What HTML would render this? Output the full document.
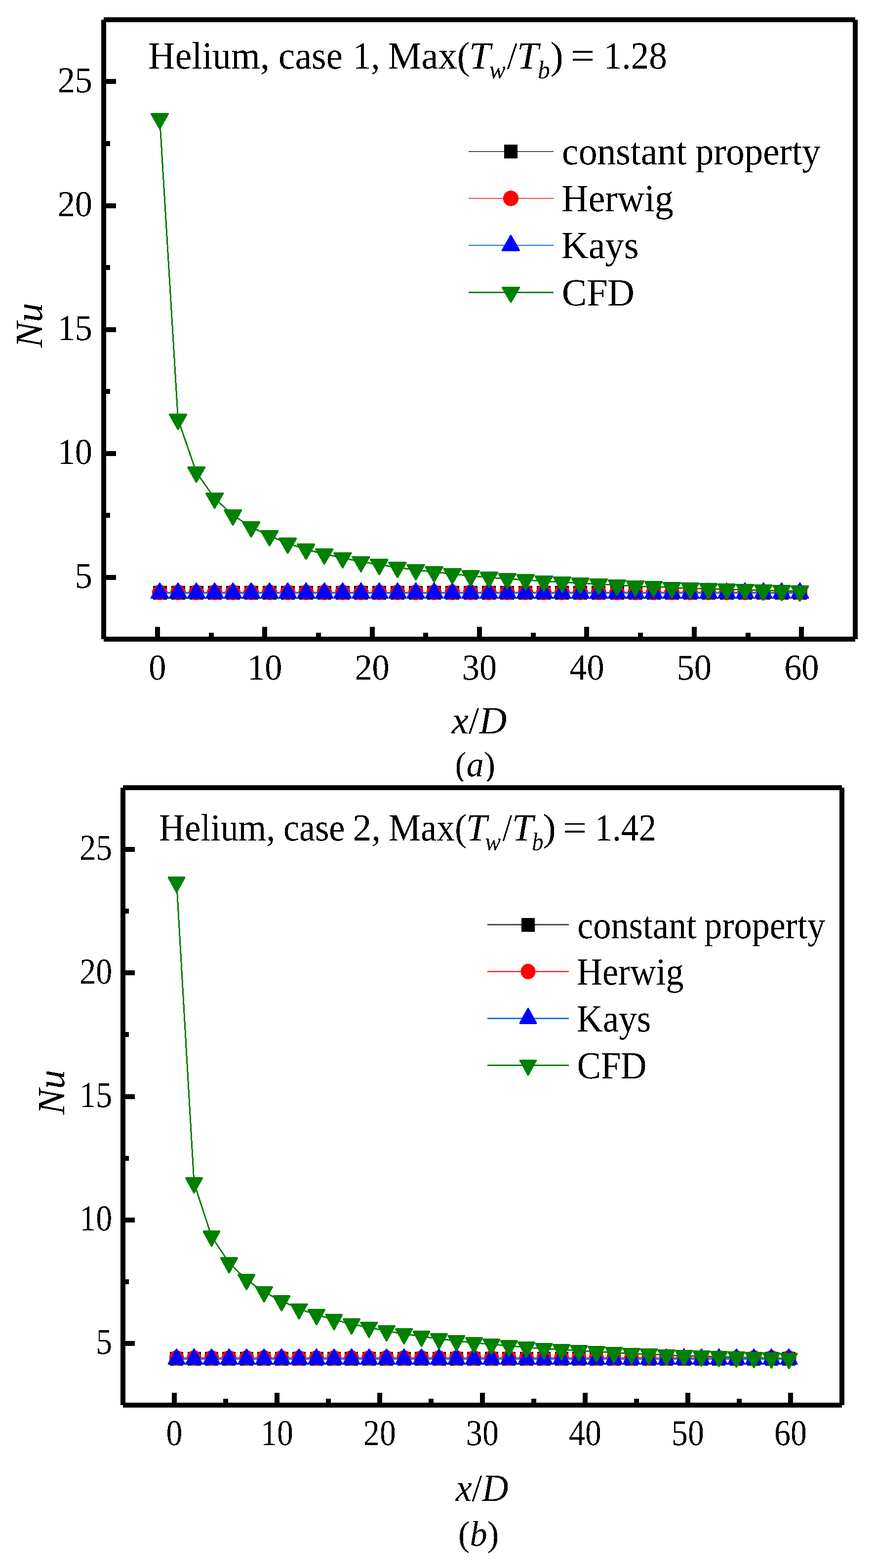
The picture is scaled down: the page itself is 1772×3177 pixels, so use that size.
<!DOCTYPE html>
<html lang="en">
<head>
<meta charset="utf-8">
<title>Nu versus x/D - Helium, case 1 and case 2</title>
<style>
html, body { margin: 0; padding: 0; background: #ffffff; }
body { width: 1772px; height: 3177px; }
svg { display: block; }
svg text { font-family: "Liberation Serif", serif; fill: #000000; font-kerning: none; filter: url(#crisp); }
</style>
</head>
<body>
<svg width="1772" height="3177" viewBox="0 0 1772 3177" shape-rendering="crispEdges" text-rendering="geometricPrecision">
<defs>
<filter id="crisp" x="-5%" y="-20%" width="110%" height="140%" color-interpolation-filters="sRGB">
<feComponentTransfer><feFuncA type="discrete" tableValues="0 1"/></feComponentTransfer>
</filter>
</defs>
<rect x="0" y="0" width="1772" height="3177" fill="#ffffff"/>
<g id="chart-a">
<g id="series-a">
<line x1="323.5" y1="1201" x2="1619.9" y2="1201" stroke="#4d4d4d" stroke-width="2.2"/>
<g><rect x="309.5" y="1187" width="28" height="28" fill="#000000"/><rect x="346.54" y="1187" width="28" height="28" fill="#000000"/><rect x="383.58" y="1187" width="28" height="28" fill="#000000"/><rect x="420.62" y="1187" width="28" height="28" fill="#000000"/><rect x="457.66" y="1187" width="28" height="28" fill="#000000"/><rect x="494.7" y="1187" width="28" height="28" fill="#000000"/><rect x="531.74" y="1187" width="28" height="28" fill="#000000"/><rect x="568.78" y="1187" width="28" height="28" fill="#000000"/><rect x="605.82" y="1187" width="28" height="28" fill="#000000"/><rect x="642.86" y="1187" width="28" height="28" fill="#000000"/><rect x="679.9" y="1187" width="28" height="28" fill="#000000"/><rect x="716.94" y="1187" width="28" height="28" fill="#000000"/><rect x="753.98" y="1187" width="28" height="28" fill="#000000"/><rect x="791.02" y="1187" width="28" height="28" fill="#000000"/><rect x="828.06" y="1187" width="28" height="28" fill="#000000"/><rect x="865.1" y="1187" width="28" height="28" fill="#000000"/><rect x="902.14" y="1187" width="28" height="28" fill="#000000"/><rect x="939.18" y="1187" width="28" height="28" fill="#000000"/><rect x="976.22" y="1187" width="28" height="28" fill="#000000"/><rect x="1013.26" y="1187" width="28" height="28" fill="#000000"/><rect x="1050.3" y="1187" width="28" height="28" fill="#000000"/><rect x="1087.34" y="1187" width="28" height="28" fill="#000000"/><rect x="1124.38" y="1187" width="28" height="28" fill="#000000"/><rect x="1161.42" y="1187" width="28" height="28" fill="#000000"/><rect x="1198.46" y="1187" width="28" height="28" fill="#000000"/><rect x="1235.5" y="1187" width="28" height="28" fill="#000000"/><rect x="1272.54" y="1187" width="28" height="28" fill="#000000"/><rect x="1309.58" y="1187" width="28" height="28" fill="#000000"/><rect x="1346.62" y="1187" width="28" height="28" fill="#000000"/><rect x="1383.66" y="1187" width="28" height="28" fill="#000000"/><rect x="1420.7" y="1187" width="28" height="28" fill="#000000"/><rect x="1457.74" y="1187" width="28" height="28" fill="#000000"/><rect x="1494.78" y="1187" width="28" height="28" fill="#000000"/><rect x="1531.82" y="1187" width="28" height="28" fill="#000000"/><rect x="1568.86" y="1187" width="28" height="28" fill="#000000"/><rect x="1605.9" y="1187" width="28" height="28" fill="#000000"/></g>
<line x1="323.5" y1="1200.4" x2="1619.9" y2="1200.4" stroke="#f64545" stroke-width="2.6"/>
<g><ellipse cx="323.5" cy="1200.4" rx="15.5" ry="15.7" fill="#ff0000"/><ellipse cx="360.54" cy="1200.4" rx="15.5" ry="15.7" fill="#ff0000"/><ellipse cx="397.58" cy="1200.4" rx="15.5" ry="15.7" fill="#ff0000"/><ellipse cx="434.62" cy="1200.4" rx="15.5" ry="15.7" fill="#ff0000"/><ellipse cx="471.66" cy="1200.4" rx="15.5" ry="15.7" fill="#ff0000"/><ellipse cx="508.7" cy="1200.4" rx="15.5" ry="15.7" fill="#ff0000"/><ellipse cx="545.74" cy="1200.4" rx="15.5" ry="15.7" fill="#ff0000"/><ellipse cx="582.78" cy="1200.4" rx="15.5" ry="15.7" fill="#ff0000"/><ellipse cx="619.82" cy="1200.4" rx="15.5" ry="15.7" fill="#ff0000"/><ellipse cx="656.86" cy="1200.4" rx="15.5" ry="15.7" fill="#ff0000"/><ellipse cx="693.9" cy="1200.4" rx="15.5" ry="15.7" fill="#ff0000"/><ellipse cx="730.94" cy="1200.4" rx="15.5" ry="15.7" fill="#ff0000"/><ellipse cx="767.98" cy="1200.4" rx="15.5" ry="15.7" fill="#ff0000"/><ellipse cx="805.02" cy="1200.4" rx="15.5" ry="15.7" fill="#ff0000"/><ellipse cx="842.06" cy="1200.4" rx="15.5" ry="15.7" fill="#ff0000"/><ellipse cx="879.1" cy="1200.4" rx="15.5" ry="15.7" fill="#ff0000"/><ellipse cx="916.14" cy="1200.4" rx="15.5" ry="15.7" fill="#ff0000"/><ellipse cx="953.18" cy="1200.4" rx="15.5" ry="15.7" fill="#ff0000"/><ellipse cx="990.22" cy="1200.4" rx="15.5" ry="15.7" fill="#ff0000"/><ellipse cx="1027.26" cy="1200.4" rx="15.5" ry="15.7" fill="#ff0000"/><ellipse cx="1064.3" cy="1200.4" rx="15.5" ry="15.7" fill="#ff0000"/><ellipse cx="1101.34" cy="1200.4" rx="15.5" ry="15.7" fill="#ff0000"/><ellipse cx="1138.38" cy="1200.4" rx="15.5" ry="15.7" fill="#ff0000"/><ellipse cx="1175.42" cy="1200.4" rx="15.5" ry="15.7" fill="#ff0000"/><ellipse cx="1212.46" cy="1200.4" rx="15.5" ry="15.7" fill="#ff0000"/><ellipse cx="1249.5" cy="1200.4" rx="15.5" ry="15.7" fill="#ff0000"/><ellipse cx="1286.54" cy="1200.4" rx="15.5" ry="15.7" fill="#ff0000"/><ellipse cx="1323.58" cy="1200.4" rx="15.5" ry="15.7" fill="#ff0000"/><ellipse cx="1360.62" cy="1200.4" rx="15.5" ry="15.7" fill="#ff0000"/><ellipse cx="1397.66" cy="1200.4" rx="15.5" ry="15.7" fill="#ff0000"/><ellipse cx="1434.7" cy="1200.4" rx="15.5" ry="15.7" fill="#ff0000"/><ellipse cx="1471.74" cy="1200.4" rx="15.5" ry="15.7" fill="#ff0000"/><ellipse cx="1508.78" cy="1200.4" rx="15.5" ry="15.7" fill="#ff0000"/><ellipse cx="1545.82" cy="1200.4" rx="15.5" ry="15.7" fill="#ff0000"/><ellipse cx="1582.86" cy="1200.4" rx="15.5" ry="15.7" fill="#ff0000"/><ellipse cx="1619.9" cy="1200.4" rx="15.5" ry="15.7" fill="#ff0000"/></g>
<line x1="323.5" y1="1201.6" x2="1619.9" y2="1201.6" stroke="#216ee1" stroke-width="3"/>
<g><polygon points="323.5,1182.13 340.35,1211.63 306.65,1211.63" fill="#0000ff" stroke="#0000ff" stroke-width="3.6" stroke-linejoin="round"/><polygon points="360.54,1182.13 377.39,1211.63 343.69,1211.63" fill="#0000ff" stroke="#0000ff" stroke-width="3.6" stroke-linejoin="round"/><polygon points="397.58,1182.13 414.43,1211.63 380.73,1211.63" fill="#0000ff" stroke="#0000ff" stroke-width="3.6" stroke-linejoin="round"/><polygon points="434.62,1182.13 451.47,1211.63 417.77,1211.63" fill="#0000ff" stroke="#0000ff" stroke-width="3.6" stroke-linejoin="round"/><polygon points="471.66,1182.13 488.51,1211.63 454.81,1211.63" fill="#0000ff" stroke="#0000ff" stroke-width="3.6" stroke-linejoin="round"/><polygon points="508.7,1182.13 525.55,1211.63 491.85,1211.63" fill="#0000ff" stroke="#0000ff" stroke-width="3.6" stroke-linejoin="round"/><polygon points="545.74,1182.13 562.59,1211.63 528.89,1211.63" fill="#0000ff" stroke="#0000ff" stroke-width="3.6" stroke-linejoin="round"/><polygon points="582.78,1182.13 599.63,1211.63 565.93,1211.63" fill="#0000ff" stroke="#0000ff" stroke-width="3.6" stroke-linejoin="round"/><polygon points="619.82,1182.13 636.67,1211.63 602.97,1211.63" fill="#0000ff" stroke="#0000ff" stroke-width="3.6" stroke-linejoin="round"/><polygon points="656.86,1182.13 673.71,1211.63 640.01,1211.63" fill="#0000ff" stroke="#0000ff" stroke-width="3.6" stroke-linejoin="round"/><polygon points="693.9,1182.13 710.75,1211.63 677.05,1211.63" fill="#0000ff" stroke="#0000ff" stroke-width="3.6" stroke-linejoin="round"/><polygon points="730.94,1182.13 747.79,1211.63 714.09,1211.63" fill="#0000ff" stroke="#0000ff" stroke-width="3.6" stroke-linejoin="round"/><polygon points="767.98,1182.13 784.83,1211.63 751.13,1211.63" fill="#0000ff" stroke="#0000ff" stroke-width="3.6" stroke-linejoin="round"/><polygon points="805.02,1182.13 821.87,1211.63 788.17,1211.63" fill="#0000ff" stroke="#0000ff" stroke-width="3.6" stroke-linejoin="round"/><polygon points="842.06,1182.13 858.91,1211.63 825.21,1211.63" fill="#0000ff" stroke="#0000ff" stroke-width="3.6" stroke-linejoin="round"/><polygon points="879.1,1182.13 895.95,1211.63 862.25,1211.63" fill="#0000ff" stroke="#0000ff" stroke-width="3.6" stroke-linejoin="round"/><polygon points="916.14,1182.13 932.99,1211.63 899.29,1211.63" fill="#0000ff" stroke="#0000ff" stroke-width="3.6" stroke-linejoin="round"/><polygon points="953.18,1182.13 970.03,1211.63 936.33,1211.63" fill="#0000ff" stroke="#0000ff" stroke-width="3.6" stroke-linejoin="round"/><polygon points="990.22,1182.13 1007.07,1211.63 973.37,1211.63" fill="#0000ff" stroke="#0000ff" stroke-width="3.6" stroke-linejoin="round"/><polygon points="1027.26,1182.13 1044.11,1211.63 1010.41,1211.63" fill="#0000ff" stroke="#0000ff" stroke-width="3.6" stroke-linejoin="round"/><polygon points="1064.3,1182.13 1081.15,1211.63 1047.45,1211.63" fill="#0000ff" stroke="#0000ff" stroke-width="3.6" stroke-linejoin="round"/><polygon points="1101.34,1182.13 1118.19,1211.63 1084.49,1211.63" fill="#0000ff" stroke="#0000ff" stroke-width="3.6" stroke-linejoin="round"/><polygon points="1138.38,1182.13 1155.23,1211.63 1121.53,1211.63" fill="#0000ff" stroke="#0000ff" stroke-width="3.6" stroke-linejoin="round"/><polygon points="1175.42,1182.13 1192.27,1211.63 1158.57,1211.63" fill="#0000ff" stroke="#0000ff" stroke-width="3.6" stroke-linejoin="round"/><polygon points="1212.46,1182.13 1229.31,1211.63 1195.61,1211.63" fill="#0000ff" stroke="#0000ff" stroke-width="3.6" stroke-linejoin="round"/><polygon points="1249.5,1182.13 1266.35,1211.63 1232.65,1211.63" fill="#0000ff" stroke="#0000ff" stroke-width="3.6" stroke-linejoin="round"/><polygon points="1286.54,1182.13 1303.39,1211.63 1269.69,1211.63" fill="#0000ff" stroke="#0000ff" stroke-width="3.6" stroke-linejoin="round"/><polygon points="1323.58,1182.13 1340.43,1211.63 1306.73,1211.63" fill="#0000ff" stroke="#0000ff" stroke-width="3.6" stroke-linejoin="round"/><polygon points="1360.62,1182.13 1377.47,1211.63 1343.77,1211.63" fill="#0000ff" stroke="#0000ff" stroke-width="3.6" stroke-linejoin="round"/><polygon points="1397.66,1182.13 1414.51,1211.63 1380.81,1211.63" fill="#0000ff" stroke="#0000ff" stroke-width="3.6" stroke-linejoin="round"/><polygon points="1434.7,1182.13 1451.55,1211.63 1417.85,1211.63" fill="#0000ff" stroke="#0000ff" stroke-width="3.6" stroke-linejoin="round"/><polygon points="1471.74,1182.13 1488.59,1211.63 1454.89,1211.63" fill="#0000ff" stroke="#0000ff" stroke-width="3.6" stroke-linejoin="round"/><polygon points="1508.78,1182.13 1525.63,1211.63 1491.93,1211.63" fill="#0000ff" stroke="#0000ff" stroke-width="3.6" stroke-linejoin="round"/><polygon points="1545.82,1182.13 1562.67,1211.63 1528.97,1211.63" fill="#0000ff" stroke="#0000ff" stroke-width="3.6" stroke-linejoin="round"/><polygon points="1582.86,1182.13 1599.71,1211.63 1566.01,1211.63" fill="#0000ff" stroke="#0000ff" stroke-width="3.6" stroke-linejoin="round"/><polygon points="1619.9,1182.13 1636.75,1211.63 1603.05,1211.63" fill="#0000ff" stroke="#0000ff" stroke-width="3.6" stroke-linejoin="round"/></g>
<polyline points="323.5,240.63 360.54,849.83 397.58,956.73 434.62,1009.73 471.66,1043.73 508.7,1067.83 545.74,1085.83 582.78,1100.93 619.82,1113.03 656.86,1122.83 693.9,1130.23 730.94,1138.13 767.98,1143.93 805.02,1149.93 842.06,1154.63 879.1,1158.83 916.14,1162.83 953.18,1166.83 990.22,1169.93 1027.26,1172.83 1064.3,1174.93 1101.34,1177.63 1138.38,1179.73 1175.42,1181.83 1212.46,1183.73 1249.5,1185.83 1286.54,1187.63 1323.58,1188.73 1360.62,1190.73 1397.66,1191.83 1434.7,1192.93 1471.74,1193.93 1508.78,1194.73 1545.82,1195.83 1582.86,1196.63 1619.9,1197.73" fill="none" stroke="#008000" stroke-width="3" stroke-linejoin="round"/>
<g><polygon points="306.65,230.8 340.35,230.8 323.5,260.3" fill="#008000" stroke="#008000" stroke-width="3.6" stroke-linejoin="round"/><polygon points="343.69,840 377.39,840 360.54,869.5" fill="#008000" stroke="#008000" stroke-width="3.6" stroke-linejoin="round"/><polygon points="380.73,946.9 414.43,946.9 397.58,976.4" fill="#008000" stroke="#008000" stroke-width="3.6" stroke-linejoin="round"/><polygon points="417.77,999.9 451.47,999.9 434.62,1029.4" fill="#008000" stroke="#008000" stroke-width="3.6" stroke-linejoin="round"/><polygon points="454.81,1033.9 488.51,1033.9 471.66,1063.4" fill="#008000" stroke="#008000" stroke-width="3.6" stroke-linejoin="round"/><polygon points="491.85,1058 525.55,1058 508.7,1087.5" fill="#008000" stroke="#008000" stroke-width="3.6" stroke-linejoin="round"/><polygon points="528.89,1076 562.59,1076 545.74,1105.5" fill="#008000" stroke="#008000" stroke-width="3.6" stroke-linejoin="round"/><polygon points="565.93,1091.1 599.63,1091.1 582.78,1120.6" fill="#008000" stroke="#008000" stroke-width="3.6" stroke-linejoin="round"/><polygon points="602.97,1103.2 636.67,1103.2 619.82,1132.7" fill="#008000" stroke="#008000" stroke-width="3.6" stroke-linejoin="round"/><polygon points="640.01,1113 673.71,1113 656.86,1142.5" fill="#008000" stroke="#008000" stroke-width="3.6" stroke-linejoin="round"/><polygon points="677.05,1120.4 710.75,1120.4 693.9,1149.9" fill="#008000" stroke="#008000" stroke-width="3.6" stroke-linejoin="round"/><polygon points="714.09,1128.3 747.79,1128.3 730.94,1157.8" fill="#008000" stroke="#008000" stroke-width="3.6" stroke-linejoin="round"/><polygon points="751.13,1134.1 784.83,1134.1 767.98,1163.6" fill="#008000" stroke="#008000" stroke-width="3.6" stroke-linejoin="round"/><polygon points="788.17,1140.1 821.87,1140.1 805.02,1169.6" fill="#008000" stroke="#008000" stroke-width="3.6" stroke-linejoin="round"/><polygon points="825.21,1144.8 858.91,1144.8 842.06,1174.3" fill="#008000" stroke="#008000" stroke-width="3.6" stroke-linejoin="round"/><polygon points="862.25,1149 895.95,1149 879.1,1178.5" fill="#008000" stroke="#008000" stroke-width="3.6" stroke-linejoin="round"/><polygon points="899.29,1153 932.99,1153 916.14,1182.5" fill="#008000" stroke="#008000" stroke-width="3.6" stroke-linejoin="round"/><polygon points="936.33,1157 970.03,1157 953.18,1186.5" fill="#008000" stroke="#008000" stroke-width="3.6" stroke-linejoin="round"/><polygon points="973.37,1160.1 1007.07,1160.1 990.22,1189.6" fill="#008000" stroke="#008000" stroke-width="3.6" stroke-linejoin="round"/><polygon points="1010.41,1163 1044.11,1163 1027.26,1192.5" fill="#008000" stroke="#008000" stroke-width="3.6" stroke-linejoin="round"/><polygon points="1047.45,1165.1 1081.15,1165.1 1064.3,1194.6" fill="#008000" stroke="#008000" stroke-width="3.6" stroke-linejoin="round"/><polygon points="1084.49,1167.8 1118.19,1167.8 1101.34,1197.3" fill="#008000" stroke="#008000" stroke-width="3.6" stroke-linejoin="round"/><polygon points="1121.53,1169.9 1155.23,1169.9 1138.38,1199.4" fill="#008000" stroke="#008000" stroke-width="3.6" stroke-linejoin="round"/><polygon points="1158.57,1172 1192.27,1172 1175.42,1201.5" fill="#008000" stroke="#008000" stroke-width="3.6" stroke-linejoin="round"/><polygon points="1195.61,1173.9 1229.31,1173.9 1212.46,1203.4" fill="#008000" stroke="#008000" stroke-width="3.6" stroke-linejoin="round"/><polygon points="1232.65,1176 1266.35,1176 1249.5,1205.5" fill="#008000" stroke="#008000" stroke-width="3.6" stroke-linejoin="round"/><polygon points="1269.69,1177.8 1303.39,1177.8 1286.54,1207.3" fill="#008000" stroke="#008000" stroke-width="3.6" stroke-linejoin="round"/><polygon points="1306.73,1178.9 1340.43,1178.9 1323.58,1208.4" fill="#008000" stroke="#008000" stroke-width="3.6" stroke-linejoin="round"/><polygon points="1343.77,1180.9 1377.47,1180.9 1360.62,1210.4" fill="#008000" stroke="#008000" stroke-width="3.6" stroke-linejoin="round"/><polygon points="1380.81,1182 1414.51,1182 1397.66,1211.5" fill="#008000" stroke="#008000" stroke-width="3.6" stroke-linejoin="round"/><polygon points="1417.85,1183.1 1451.55,1183.1 1434.7,1212.6" fill="#008000" stroke="#008000" stroke-width="3.6" stroke-linejoin="round"/><polygon points="1454.89,1184.1 1488.59,1184.1 1471.74,1213.6" fill="#008000" stroke="#008000" stroke-width="3.6" stroke-linejoin="round"/><polygon points="1491.93,1184.9 1525.63,1184.9 1508.78,1214.4" fill="#008000" stroke="#008000" stroke-width="3.6" stroke-linejoin="round"/><polygon points="1528.97,1186 1562.67,1186 1545.82,1215.5" fill="#008000" stroke="#008000" stroke-width="3.6" stroke-linejoin="round"/><polygon points="1566.01,1186.8 1599.71,1186.8 1582.86,1216.3" fill="#008000" stroke="#008000" stroke-width="3.6" stroke-linejoin="round"/><polygon points="1603.05,1187.9 1636.75,1187.9 1619.9,1217.4" fill="#008000" stroke="#008000" stroke-width="3.6" stroke-linejoin="round"/></g>
</g>
<g id="frame-a" fill="#000">
<rect x="205" y="40" width="10" height="1255"/>
<rect x="1727" y="40" width="10" height="1255"/>
<rect x="210" y="35" width="1522" height="10"/>
<rect x="210" y="1290" width="1522" height="10"/>
<rect x="313.71" y="1270" width="10" height="25"/>
<rect x="423.03" y="1282" width="10" height="13"/>
<rect x="531.14" y="1270" width="10" height="25"/>
<rect x="639.86" y="1282" width="10" height="13"/>
<rect x="748.57" y="1270" width="10" height="25"/>
<rect x="857.29" y="1282" width="10" height="13"/>
<rect x="966" y="1270" width="10" height="25"/>
<rect x="1074.71" y="1282" width="10" height="13"/>
<rect x="1183.43" y="1270" width="10" height="25"/>
<rect x="1292.14" y="1282" width="10" height="13"/>
<rect x="1400.86" y="1270" width="10" height="25"/>
<rect x="1509.57" y="1282" width="10" height="13"/>
<rect x="1618.29" y="1270" width="10" height="25"/>
<rect x="210" y="1164.5" width="25" height="10"/>
<rect x="210" y="1039" width="13" height="10"/>
<rect x="210" y="913.5" width="25" height="10"/>
<rect x="210" y="788" width="13" height="10"/>
<rect x="210" y="662.5" width="25" height="10"/>
<rect x="210" y="537" width="13" height="10"/>
<rect x="210" y="411.5" width="25" height="10"/>
<rect x="210" y="286" width="13" height="10"/>
<rect x="210" y="159.9" width="25" height="10"/>
</g>
<g id="ticklabels-a">
<text transform="translate(318.71 1377) scale(0.95 1)" font-size="74" text-anchor="middle">0</text>
<text transform="translate(536.14 1377) scale(0.95 1)" font-size="74" text-anchor="middle">10</text>
<text transform="translate(753.57 1377) scale(0.95 1)" font-size="74" text-anchor="middle">20</text>
<text transform="translate(971 1377) scale(0.95 1)" font-size="74" text-anchor="middle">30</text>
<text transform="translate(1188.43 1377) scale(0.95 1)" font-size="74" text-anchor="middle">40</text>
<text transform="translate(1405.86 1377) scale(0.95 1)" font-size="74" text-anchor="middle">50</text>
<text transform="translate(1623.29 1377) scale(0.95 1)" font-size="74" text-anchor="middle">60</text>
<text transform="translate(187 1190.5) scale(0.95 1)" font-size="74" text-anchor="end">5</text>
<text transform="translate(187 939.5) scale(0.95 1)" font-size="74" text-anchor="end">10</text>
<text transform="translate(187 688.5) scale(0.95 1)" font-size="74" text-anchor="end">15</text>
<text transform="translate(187 437.5) scale(0.95 1)" font-size="74" text-anchor="end">20</text>
<text transform="translate(187 186.5) scale(0.95 1)" font-size="74" text-anchor="end">25</text>
</g>
<text transform="translate(85.1 659.3) rotate(-90) scale(1 1)" font-size="78" text-anchor="middle" font-style="italic">Nu</text>
<text transform="translate(914.84 1485.8) scale(0.99 1)" font-size="78" text-anchor="start"><tspan font-style="italic">x</tspan>/<tspan font-style="italic">D</tspan></text>
<text transform="translate(921.52 1572.8) scale(0.97 1)" font-size="72" text-anchor="start">(<tspan font-style="italic">a</tspan>)</text>
<g id="title-a">
<text transform="translate(300.02 139) scale(0.97 1)" font-size="78" text-anchor="start">Helium, </text>
<text transform="translate(563.91 139) scale(0.97 1)" font-size="78" text-anchor="start">case </text>
<text transform="translate(714.47 139) scale(0.94 1)" font-size="78" text-anchor="start">1, </text>
<text transform="translate(785.51 139) scale(0.98 1)" font-size="78" text-anchor="start">Max(</text>
<text transform="translate(949.87 139) scale(1.01 1)" font-size="78" text-anchor="start" font-style="italic">T</text>
<text transform="translate(990.72 159.4) scale(0.95 1)" font-size="52" text-anchor="start" font-style="italic">w</text>
<text transform="translate(1026.7 139) scale(0.97 1)" font-size="78" text-anchor="start">/</text>
<text transform="translate(1046.87 139) scale(1.01 1)" font-size="78" text-anchor="start" font-style="italic">T</text>
<text transform="translate(1088.95 159.4) scale(0.96 1)" font-size="52" text-anchor="start" font-style="italic">b</text>
<text transform="translate(1114.44 139) scale(1.02 1)" font-size="78" text-anchor="start">) </text>
<text transform="translate(1155.27 139) scale(1.12 1)" font-size="78" text-anchor="start">= </text>
<text transform="translate(1222.54 139) scale(0.94 1)" font-size="78" text-anchor="start">1.28</text>
</g>
<g id="legend-a">
<line x1="949" y1="307" x2="1121" y2="307" stroke="#4d4d4d" stroke-width="2.3"/>
<rect x="1021" y="293" width="27" height="28" fill="#000000"/>
<text transform="translate(1138.12 333.3) scale(0.97 1)" font-size="78" text-anchor="start">constant </text>
<text transform="translate(1407.99 333.3) scale(0.96 1)" font-size="78" text-anchor="start">property</text>
<line x1="949" y1="402" x2="1121" y2="402" stroke="#f64545" stroke-width="2.3"/>
<ellipse cx="1034.5" cy="402" rx="15.5" ry="15.7" fill="#ff0000"/>
<text transform="translate(1137.03 428.3) scale(0.97 1)" font-size="78" text-anchor="start">Herwig</text>
<line x1="949" y1="497" x2="1121" y2="497" stroke="#216ee1" stroke-width="2.3"/>
<polygon points="1034.5,477.63 1051.35,507.13 1017.65,507.13" fill="#0000ff" stroke="#0000ff" stroke-width="3.6" stroke-linejoin="round"/>
<text transform="translate(1136.49 523.3) scale(0.98 1)" font-size="78" text-anchor="start">Kays</text>
<line x1="949" y1="592.3" x2="1121" y2="592.3" stroke="#008000" stroke-width="3"/>
<polygon points="1017.65,582.47 1051.35,582.47 1034.5,611.97" fill="#008000" stroke="#008000" stroke-width="3.6" stroke-linejoin="round"/>
<text transform="translate(1137.8 618.6) scale(0.97 1)" font-size="78" text-anchor="start">CFD</text>
</g>
</g>
<rect x="0" y="1583" width="1772" height="12" fill="#ffffff"/>
<g id="chart-b">
<g id="series-b">
<line x1="357.6" y1="2752.9" x2="1597.65" y2="2752.9" stroke="#4d4d4d" stroke-width="2.6"/>
<g><rect x="344.1" y="2738.9" width="27" height="28" fill="#000000"/><rect x="379.53" y="2738.9" width="27" height="28" fill="#000000"/><rect x="414.96" y="2738.9" width="27" height="28" fill="#000000"/><rect x="450.39" y="2738.9" width="27" height="28" fill="#000000"/><rect x="485.82" y="2738.9" width="27" height="28" fill="#000000"/><rect x="521.25" y="2738.9" width="27" height="28" fill="#000000"/><rect x="556.68" y="2738.9" width="27" height="28" fill="#000000"/><rect x="592.11" y="2738.9" width="27" height="28" fill="#000000"/><rect x="627.54" y="2738.9" width="27" height="28" fill="#000000"/><rect x="662.97" y="2738.9" width="27" height="28" fill="#000000"/><rect x="698.4" y="2738.9" width="27" height="28" fill="#000000"/><rect x="733.83" y="2738.9" width="27" height="28" fill="#000000"/><rect x="769.26" y="2738.9" width="27" height="28" fill="#000000"/><rect x="804.69" y="2738.9" width="27" height="28" fill="#000000"/><rect x="840.12" y="2738.9" width="27" height="28" fill="#000000"/><rect x="875.55" y="2738.9" width="27" height="28" fill="#000000"/><rect x="910.98" y="2738.9" width="27" height="28" fill="#000000"/><rect x="946.41" y="2738.9" width="27" height="28" fill="#000000"/><rect x="981.84" y="2738.9" width="27" height="28" fill="#000000"/><rect x="1017.27" y="2738.9" width="27" height="28" fill="#000000"/><rect x="1052.7" y="2738.9" width="27" height="28" fill="#000000"/><rect x="1088.13" y="2738.9" width="27" height="28" fill="#000000"/><rect x="1123.56" y="2738.9" width="27" height="28" fill="#000000"/><rect x="1158.99" y="2738.9" width="27" height="28" fill="#000000"/><rect x="1194.42" y="2738.9" width="27" height="28" fill="#000000"/><rect x="1229.85" y="2738.9" width="27" height="28" fill="#000000"/><rect x="1265.28" y="2738.9" width="27" height="28" fill="#000000"/><rect x="1300.71" y="2738.9" width="27" height="28" fill="#000000"/><rect x="1336.14" y="2738.9" width="27" height="28" fill="#000000"/><rect x="1371.57" y="2738.9" width="27" height="28" fill="#000000"/><rect x="1407" y="2738.9" width="27" height="28" fill="#000000"/><rect x="1442.43" y="2738.9" width="27" height="28" fill="#000000"/><rect x="1477.86" y="2738.9" width="27" height="28" fill="#000000"/><rect x="1513.29" y="2738.9" width="27" height="28" fill="#000000"/><rect x="1548.72" y="2738.9" width="27" height="28" fill="#000000"/><rect x="1584.15" y="2738.9" width="27" height="28" fill="#000000"/></g>
<line x1="357.6" y1="2751.4" x2="1597.65" y2="2751.4" stroke="#f64545" stroke-width="2.6"/>
<g><ellipse cx="357.6" cy="2751.4" rx="15" ry="15.6" fill="#ff0000"/><ellipse cx="393.03" cy="2751.4" rx="15" ry="15.6" fill="#ff0000"/><ellipse cx="428.46" cy="2751.4" rx="15" ry="15.6" fill="#ff0000"/><ellipse cx="463.89" cy="2751.4" rx="15" ry="15.6" fill="#ff0000"/><ellipse cx="499.32" cy="2751.4" rx="15" ry="15.6" fill="#ff0000"/><ellipse cx="534.75" cy="2751.4" rx="15" ry="15.6" fill="#ff0000"/><ellipse cx="570.18" cy="2751.4" rx="15" ry="15.6" fill="#ff0000"/><ellipse cx="605.61" cy="2751.4" rx="15" ry="15.6" fill="#ff0000"/><ellipse cx="641.04" cy="2751.4" rx="15" ry="15.6" fill="#ff0000"/><ellipse cx="676.47" cy="2751.4" rx="15" ry="15.6" fill="#ff0000"/><ellipse cx="711.9" cy="2751.4" rx="15" ry="15.6" fill="#ff0000"/><ellipse cx="747.33" cy="2751.4" rx="15" ry="15.6" fill="#ff0000"/><ellipse cx="782.76" cy="2751.4" rx="15" ry="15.6" fill="#ff0000"/><ellipse cx="818.19" cy="2751.4" rx="15" ry="15.6" fill="#ff0000"/><ellipse cx="853.62" cy="2751.4" rx="15" ry="15.6" fill="#ff0000"/><ellipse cx="889.05" cy="2751.4" rx="15" ry="15.6" fill="#ff0000"/><ellipse cx="924.48" cy="2751.4" rx="15" ry="15.6" fill="#ff0000"/><ellipse cx="959.91" cy="2751.4" rx="15" ry="15.6" fill="#ff0000"/><ellipse cx="995.34" cy="2751.4" rx="15" ry="15.6" fill="#ff0000"/><ellipse cx="1030.77" cy="2751.4" rx="15" ry="15.6" fill="#ff0000"/><ellipse cx="1066.2" cy="2751.4" rx="15" ry="15.6" fill="#ff0000"/><ellipse cx="1101.63" cy="2751.4" rx="15" ry="15.6" fill="#ff0000"/><ellipse cx="1137.06" cy="2751.4" rx="15" ry="15.6" fill="#ff0000"/><ellipse cx="1172.49" cy="2751.4" rx="15" ry="15.6" fill="#ff0000"/><ellipse cx="1207.92" cy="2751.4" rx="15" ry="15.6" fill="#ff0000"/><ellipse cx="1243.35" cy="2751.4" rx="15" ry="15.6" fill="#ff0000"/><ellipse cx="1278.78" cy="2751.4" rx="15" ry="15.6" fill="#ff0000"/><ellipse cx="1314.21" cy="2751.4" rx="15" ry="15.6" fill="#ff0000"/><ellipse cx="1349.64" cy="2751.4" rx="15" ry="15.6" fill="#ff0000"/><ellipse cx="1385.07" cy="2751.4" rx="15" ry="15.6" fill="#ff0000"/><ellipse cx="1420.5" cy="2751.4" rx="15" ry="15.6" fill="#ff0000"/><ellipse cx="1455.93" cy="2751.4" rx="15" ry="15.6" fill="#ff0000"/><ellipse cx="1491.36" cy="2751.4" rx="15" ry="15.6" fill="#ff0000"/><ellipse cx="1526.79" cy="2751.4" rx="15" ry="15.6" fill="#ff0000"/><ellipse cx="1562.22" cy="2751.4" rx="15" ry="15.6" fill="#ff0000"/><ellipse cx="1597.65" cy="2751.4" rx="15" ry="15.6" fill="#ff0000"/></g>
<line x1="357.6" y1="2753.6" x2="1597.65" y2="2753.6" stroke="#216ee1" stroke-width="3"/>
<g><polygon points="357.6,2734.2 373.8,2763.6 341.4,2763.6" fill="#0000ff" stroke="#0000ff" stroke-width="3.6" stroke-linejoin="round"/><polygon points="393.03,2734.2 409.23,2763.6 376.83,2763.6" fill="#0000ff" stroke="#0000ff" stroke-width="3.6" stroke-linejoin="round"/><polygon points="428.46,2734.2 444.66,2763.6 412.26,2763.6" fill="#0000ff" stroke="#0000ff" stroke-width="3.6" stroke-linejoin="round"/><polygon points="463.89,2734.2 480.09,2763.6 447.69,2763.6" fill="#0000ff" stroke="#0000ff" stroke-width="3.6" stroke-linejoin="round"/><polygon points="499.32,2734.2 515.52,2763.6 483.12,2763.6" fill="#0000ff" stroke="#0000ff" stroke-width="3.6" stroke-linejoin="round"/><polygon points="534.75,2734.2 550.95,2763.6 518.55,2763.6" fill="#0000ff" stroke="#0000ff" stroke-width="3.6" stroke-linejoin="round"/><polygon points="570.18,2734.2 586.38,2763.6 553.98,2763.6" fill="#0000ff" stroke="#0000ff" stroke-width="3.6" stroke-linejoin="round"/><polygon points="605.61,2734.2 621.81,2763.6 589.41,2763.6" fill="#0000ff" stroke="#0000ff" stroke-width="3.6" stroke-linejoin="round"/><polygon points="641.04,2734.2 657.24,2763.6 624.84,2763.6" fill="#0000ff" stroke="#0000ff" stroke-width="3.6" stroke-linejoin="round"/><polygon points="676.47,2734.2 692.67,2763.6 660.27,2763.6" fill="#0000ff" stroke="#0000ff" stroke-width="3.6" stroke-linejoin="round"/><polygon points="711.9,2734.2 728.1,2763.6 695.7,2763.6" fill="#0000ff" stroke="#0000ff" stroke-width="3.6" stroke-linejoin="round"/><polygon points="747.33,2734.2 763.53,2763.6 731.13,2763.6" fill="#0000ff" stroke="#0000ff" stroke-width="3.6" stroke-linejoin="round"/><polygon points="782.76,2734.2 798.96,2763.6 766.56,2763.6" fill="#0000ff" stroke="#0000ff" stroke-width="3.6" stroke-linejoin="round"/><polygon points="818.19,2734.2 834.39,2763.6 801.99,2763.6" fill="#0000ff" stroke="#0000ff" stroke-width="3.6" stroke-linejoin="round"/><polygon points="853.62,2734.2 869.82,2763.6 837.42,2763.6" fill="#0000ff" stroke="#0000ff" stroke-width="3.6" stroke-linejoin="round"/><polygon points="889.05,2734.2 905.25,2763.6 872.85,2763.6" fill="#0000ff" stroke="#0000ff" stroke-width="3.6" stroke-linejoin="round"/><polygon points="924.48,2734.2 940.68,2763.6 908.28,2763.6" fill="#0000ff" stroke="#0000ff" stroke-width="3.6" stroke-linejoin="round"/><polygon points="959.91,2734.2 976.11,2763.6 943.71,2763.6" fill="#0000ff" stroke="#0000ff" stroke-width="3.6" stroke-linejoin="round"/><polygon points="995.34,2734.2 1011.54,2763.6 979.14,2763.6" fill="#0000ff" stroke="#0000ff" stroke-width="3.6" stroke-linejoin="round"/><polygon points="1030.77,2734.2 1046.97,2763.6 1014.57,2763.6" fill="#0000ff" stroke="#0000ff" stroke-width="3.6" stroke-linejoin="round"/><polygon points="1066.2,2734.2 1082.4,2763.6 1050,2763.6" fill="#0000ff" stroke="#0000ff" stroke-width="3.6" stroke-linejoin="round"/><polygon points="1101.63,2734.2 1117.83,2763.6 1085.43,2763.6" fill="#0000ff" stroke="#0000ff" stroke-width="3.6" stroke-linejoin="round"/><polygon points="1137.06,2734.2 1153.26,2763.6 1120.86,2763.6" fill="#0000ff" stroke="#0000ff" stroke-width="3.6" stroke-linejoin="round"/><polygon points="1172.49,2734.2 1188.69,2763.6 1156.29,2763.6" fill="#0000ff" stroke="#0000ff" stroke-width="3.6" stroke-linejoin="round"/><polygon points="1207.92,2734.2 1224.12,2763.6 1191.72,2763.6" fill="#0000ff" stroke="#0000ff" stroke-width="3.6" stroke-linejoin="round"/><polygon points="1243.35,2734.2 1259.55,2763.6 1227.15,2763.6" fill="#0000ff" stroke="#0000ff" stroke-width="3.6" stroke-linejoin="round"/><polygon points="1278.78,2734.2 1294.98,2763.6 1262.58,2763.6" fill="#0000ff" stroke="#0000ff" stroke-width="3.6" stroke-linejoin="round"/><polygon points="1314.21,2734.2 1330.41,2763.6 1298.01,2763.6" fill="#0000ff" stroke="#0000ff" stroke-width="3.6" stroke-linejoin="round"/><polygon points="1349.64,2734.2 1365.84,2763.6 1333.44,2763.6" fill="#0000ff" stroke="#0000ff" stroke-width="3.6" stroke-linejoin="round"/><polygon points="1385.07,2734.2 1401.27,2763.6 1368.87,2763.6" fill="#0000ff" stroke="#0000ff" stroke-width="3.6" stroke-linejoin="round"/><polygon points="1420.5,2734.2 1436.7,2763.6 1404.3,2763.6" fill="#0000ff" stroke="#0000ff" stroke-width="3.6" stroke-linejoin="round"/><polygon points="1455.93,2734.2 1472.13,2763.6 1439.73,2763.6" fill="#0000ff" stroke="#0000ff" stroke-width="3.6" stroke-linejoin="round"/><polygon points="1491.36,2734.2 1507.56,2763.6 1475.16,2763.6" fill="#0000ff" stroke="#0000ff" stroke-width="3.6" stroke-linejoin="round"/><polygon points="1526.79,2734.2 1542.99,2763.6 1510.59,2763.6" fill="#0000ff" stroke="#0000ff" stroke-width="3.6" stroke-linejoin="round"/><polygon points="1562.22,2734.2 1578.42,2763.6 1546.02,2763.6" fill="#0000ff" stroke="#0000ff" stroke-width="3.6" stroke-linejoin="round"/><polygon points="1597.65,2734.2 1613.85,2763.6 1581.45,2763.6" fill="#0000ff" stroke="#0000ff" stroke-width="3.6" stroke-linejoin="round"/></g>
<polyline points="357.6,1787.6 393.03,2396.9 428.46,2505 463.89,2558.9 499.32,2592.9 534.75,2617.8 570.18,2635.9 605.61,2652.1 641.04,2664 676.47,2673.9 711.9,2682.8 747.33,2689.7 782.76,2696.8 818.19,2702.7 853.62,2707.8 889.05,2712.8 924.48,2716.7 959.91,2720.7 995.34,2723.8 1030.77,2726.8 1066.2,2729.9 1101.63,2732.8 1137.06,2734.7 1172.49,2736.8 1207.92,2738.7 1243.35,2740.7 1278.78,2742.6 1314.21,2743.7 1349.64,2745.6 1385.07,2746.6 1420.5,2747.6 1455.93,2748.7 1491.36,2749.7 1526.79,2751 1562.22,2751.8 1597.65,2752.6" fill="none" stroke="#008000" stroke-width="3" stroke-linejoin="round"/>
<g><polygon points="341.4,1777.8 373.8,1777.8 357.6,1807.2" fill="#008000" stroke="#008000" stroke-width="3.6" stroke-linejoin="round"/><polygon points="376.83,2387.1 409.23,2387.1 393.03,2416.5" fill="#008000" stroke="#008000" stroke-width="3.6" stroke-linejoin="round"/><polygon points="412.26,2495.2 444.66,2495.2 428.46,2524.6" fill="#008000" stroke="#008000" stroke-width="3.6" stroke-linejoin="round"/><polygon points="447.69,2549.1 480.09,2549.1 463.89,2578.5" fill="#008000" stroke="#008000" stroke-width="3.6" stroke-linejoin="round"/><polygon points="483.12,2583.1 515.52,2583.1 499.32,2612.5" fill="#008000" stroke="#008000" stroke-width="3.6" stroke-linejoin="round"/><polygon points="518.55,2608 550.95,2608 534.75,2637.4" fill="#008000" stroke="#008000" stroke-width="3.6" stroke-linejoin="round"/><polygon points="553.98,2626.1 586.38,2626.1 570.18,2655.5" fill="#008000" stroke="#008000" stroke-width="3.6" stroke-linejoin="round"/><polygon points="589.41,2642.3 621.81,2642.3 605.61,2671.7" fill="#008000" stroke="#008000" stroke-width="3.6" stroke-linejoin="round"/><polygon points="624.84,2654.2 657.24,2654.2 641.04,2683.6" fill="#008000" stroke="#008000" stroke-width="3.6" stroke-linejoin="round"/><polygon points="660.27,2664.1 692.67,2664.1 676.47,2693.5" fill="#008000" stroke="#008000" stroke-width="3.6" stroke-linejoin="round"/><polygon points="695.7,2673 728.1,2673 711.9,2702.4" fill="#008000" stroke="#008000" stroke-width="3.6" stroke-linejoin="round"/><polygon points="731.13,2679.9 763.53,2679.9 747.33,2709.3" fill="#008000" stroke="#008000" stroke-width="3.6" stroke-linejoin="round"/><polygon points="766.56,2687 798.96,2687 782.76,2716.4" fill="#008000" stroke="#008000" stroke-width="3.6" stroke-linejoin="round"/><polygon points="801.99,2692.9 834.39,2692.9 818.19,2722.3" fill="#008000" stroke="#008000" stroke-width="3.6" stroke-linejoin="round"/><polygon points="837.42,2698 869.82,2698 853.62,2727.4" fill="#008000" stroke="#008000" stroke-width="3.6" stroke-linejoin="round"/><polygon points="872.85,2703 905.25,2703 889.05,2732.4" fill="#008000" stroke="#008000" stroke-width="3.6" stroke-linejoin="round"/><polygon points="908.28,2706.9 940.68,2706.9 924.48,2736.3" fill="#008000" stroke="#008000" stroke-width="3.6" stroke-linejoin="round"/><polygon points="943.71,2710.9 976.11,2710.9 959.91,2740.3" fill="#008000" stroke="#008000" stroke-width="3.6" stroke-linejoin="round"/><polygon points="979.14,2714 1011.54,2714 995.34,2743.4" fill="#008000" stroke="#008000" stroke-width="3.6" stroke-linejoin="round"/><polygon points="1014.57,2717 1046.97,2717 1030.77,2746.4" fill="#008000" stroke="#008000" stroke-width="3.6" stroke-linejoin="round"/><polygon points="1050,2720.1 1082.4,2720.1 1066.2,2749.5" fill="#008000" stroke="#008000" stroke-width="3.6" stroke-linejoin="round"/><polygon points="1085.43,2723 1117.83,2723 1101.63,2752.4" fill="#008000" stroke="#008000" stroke-width="3.6" stroke-linejoin="round"/><polygon points="1120.86,2724.9 1153.26,2724.9 1137.06,2754.3" fill="#008000" stroke="#008000" stroke-width="3.6" stroke-linejoin="round"/><polygon points="1156.29,2727 1188.69,2727 1172.49,2756.4" fill="#008000" stroke="#008000" stroke-width="3.6" stroke-linejoin="round"/><polygon points="1191.72,2728.9 1224.12,2728.9 1207.92,2758.3" fill="#008000" stroke="#008000" stroke-width="3.6" stroke-linejoin="round"/><polygon points="1227.15,2730.9 1259.55,2730.9 1243.35,2760.3" fill="#008000" stroke="#008000" stroke-width="3.6" stroke-linejoin="round"/><polygon points="1262.58,2732.8 1294.98,2732.8 1278.78,2762.2" fill="#008000" stroke="#008000" stroke-width="3.6" stroke-linejoin="round"/><polygon points="1298.01,2733.9 1330.41,2733.9 1314.21,2763.3" fill="#008000" stroke="#008000" stroke-width="3.6" stroke-linejoin="round"/><polygon points="1333.44,2735.8 1365.84,2735.8 1349.64,2765.2" fill="#008000" stroke="#008000" stroke-width="3.6" stroke-linejoin="round"/><polygon points="1368.87,2736.8 1401.27,2736.8 1385.07,2766.2" fill="#008000" stroke="#008000" stroke-width="3.6" stroke-linejoin="round"/><polygon points="1404.3,2737.8 1436.7,2737.8 1420.5,2767.2" fill="#008000" stroke="#008000" stroke-width="3.6" stroke-linejoin="round"/><polygon points="1439.73,2738.9 1472.13,2738.9 1455.93,2768.3" fill="#008000" stroke="#008000" stroke-width="3.6" stroke-linejoin="round"/><polygon points="1475.16,2739.9 1507.56,2739.9 1491.36,2769.3" fill="#008000" stroke="#008000" stroke-width="3.6" stroke-linejoin="round"/><polygon points="1510.59,2741.2 1542.99,2741.2 1526.79,2770.6" fill="#008000" stroke="#008000" stroke-width="3.6" stroke-linejoin="round"/><polygon points="1546.02,2742 1578.42,2742 1562.22,2771.4" fill="#008000" stroke="#008000" stroke-width="3.6" stroke-linejoin="round"/><polygon points="1581.45,2742.8 1613.85,2742.8 1597.65,2772.2" fill="#008000" stroke="#008000" stroke-width="3.6" stroke-linejoin="round"/></g>
</g>
<g id="frame-b" fill="#000">
<rect x="244" y="1596" width="10" height="1251"/>
<rect x="1700" y="1596" width="10" height="1251"/>
<rect x="249" y="1591" width="1456" height="10"/>
<rect x="249" y="2842" width="1456" height="10"/>
<rect x="348" y="2822" width="10" height="25"/>
<rect x="452" y="2834" width="10" height="13"/>
<rect x="556" y="2822" width="10" height="25"/>
<rect x="660" y="2834" width="10" height="13"/>
<rect x="764" y="2822" width="10" height="25"/>
<rect x="868" y="2834" width="10" height="13"/>
<rect x="972" y="2822" width="10" height="25"/>
<rect x="1076" y="2834" width="10" height="13"/>
<rect x="1180" y="2822" width="10" height="25"/>
<rect x="1284" y="2834" width="10" height="13"/>
<rect x="1388" y="2822" width="10" height="25"/>
<rect x="1492" y="2834" width="10" height="13"/>
<rect x="1596" y="2822" width="10" height="25"/>
<rect x="249" y="2716.9" width="23.8" height="10"/>
<rect x="249" y="2591.8" width="12.2" height="10"/>
<rect x="249" y="2466.7" width="23.8" height="10"/>
<rect x="249" y="2341.6" width="12.2" height="10"/>
<rect x="249" y="2216.5" width="23.8" height="10"/>
<rect x="249" y="2091.4" width="12.2" height="10"/>
<rect x="249" y="1966.3" width="23.8" height="10"/>
<rect x="249" y="1841.2" width="12.2" height="10"/>
<rect x="249" y="1716.1" width="23.8" height="10"/>
</g>
<g id="ticklabels-b">
<text transform="translate(353 2928.2) scale(0.89 1)" font-size="74" text-anchor="middle">0</text>
<text transform="translate(561 2928.2) scale(0.89 1)" font-size="74" text-anchor="middle">10</text>
<text transform="translate(769 2928.2) scale(0.89 1)" font-size="74" text-anchor="middle">20</text>
<text transform="translate(977 2928.2) scale(0.89 1)" font-size="74" text-anchor="middle">30</text>
<text transform="translate(1185 2928.2) scale(0.89 1)" font-size="74" text-anchor="middle">40</text>
<text transform="translate(1393 2928.2) scale(0.89 1)" font-size="74" text-anchor="middle">50</text>
<text transform="translate(1601 2928.2) scale(0.89 1)" font-size="74" text-anchor="middle">60</text>
<text transform="translate(227.2 2743.1) scale(0.89 1)" font-size="74" text-anchor="end">5</text>
<text transform="translate(227.2 2492.9) scale(0.89 1)" font-size="74" text-anchor="end">10</text>
<text transform="translate(227.2 2242.7) scale(0.89 1)" font-size="74" text-anchor="end">15</text>
<text transform="translate(227.2 1992.5) scale(0.89 1)" font-size="74" text-anchor="end">20</text>
<text transform="translate(227.2 1742.3) scale(0.89 1)" font-size="74" text-anchor="end">25</text>
</g>
<text transform="translate(130.1 2212.9) rotate(-90) scale(1 1)" font-size="77.8" text-anchor="middle" font-style="italic">Nu</text>
<text transform="translate(922.9 3041) scale(0.95 1)" font-size="77.8" text-anchor="start"><tspan font-style="italic">x</tspan>/<tspan font-style="italic">D</tspan></text>
<text transform="translate(927.91 3132.4) scale(0.98 1)" font-size="72" text-anchor="start">(<tspan font-style="italic">b</tspan>)</text>
<g id="title-b">
<text transform="translate(322.11 1702.8) scale(0.93 1)" font-size="77.8" text-anchor="start">Helium, </text>
<text transform="translate(573.96 1702.8) scale(0.93 1)" font-size="77.8" text-anchor="start">case </text>
<text transform="translate(714.49 1702.8) scale(0.97 1)" font-size="77.8" text-anchor="start">2, </text>
<text transform="translate(786.99 1702.8) scale(0.94 1)" font-size="77.8" text-anchor="start">Max(</text>
<text transform="translate(943.93 1702.8) scale(0.98 1)" font-size="77.8" text-anchor="start" font-style="italic">T</text>
<text transform="translate(982.26 1723.2) scale(0.92 1)" font-size="52" text-anchor="start" font-style="italic">w</text>
<text transform="translate(1017.8 1702.8) scale(0.89 1)" font-size="77.8" text-anchor="start">/</text>
<text transform="translate(1036.71 1702.8) scale(1 1)" font-size="77.8" text-anchor="start" font-style="italic">T</text>
<text transform="translate(1077.28 1723.2) scale(0.89 1)" font-size="52" text-anchor="start" font-style="italic">b</text>
<text transform="translate(1099.44 1702.8) scale(1.02 1)" font-size="77.8" text-anchor="start">) </text>
<text transform="translate(1139.31 1702.8) scale(1.11 1)" font-size="77.8" text-anchor="start">= </text>
<text transform="translate(1204.13 1702.8) scale(0.92 1)" font-size="77.8" text-anchor="start">1.42</text>
</g>
<g id="legend-b">
<line x1="987" y1="1873.6" x2="1152" y2="1873.6" stroke="#4d4d4d" stroke-width="2.6"/>
<rect x="1056" y="1859.6" width="27" height="28" fill="#000000"/>
<text transform="translate(1169.15 1900.6) scale(0.93 1)" font-size="77.8" text-anchor="start">constant </text>
<text transform="translate(1426.14 1900.6) scale(0.93 1)" font-size="77.8" text-anchor="start">property</text>
<line x1="987" y1="1968.3" x2="1152" y2="1968.3" stroke="#f64545" stroke-width="2.6"/>
<ellipse cx="1069.5" cy="1968.3" rx="15" ry="15.6" fill="#ff0000"/>
<text transform="translate(1167.73 1995.3) scale(0.93 1)" font-size="77.8" text-anchor="start">Herwig</text>
<line x1="987" y1="2063.2" x2="1152" y2="2063.2" stroke="#216ee1" stroke-width="2.6"/>
<polygon points="1069.5,2043.9 1085.7,2073.3 1053.3,2073.3" fill="#0000ff" stroke="#0000ff" stroke-width="3.6" stroke-linejoin="round"/>
<text transform="translate(1167.9 2090.2) scale(0.94 1)" font-size="77.8" text-anchor="start">Kays</text>
<line x1="987" y1="2158.1" x2="1152" y2="2158.1" stroke="#008000" stroke-width="3"/>
<polygon points="1053.3,2148.3 1085.7,2148.3 1069.5,2177.7" fill="#008000" stroke="#008000" stroke-width="3.6" stroke-linejoin="round"/>
<text transform="translate(1168.74 2185.1) scale(0.93 1)" font-size="77.8" text-anchor="start">CFD</text>
</g>
</g>
</svg>
</body>
</html>
